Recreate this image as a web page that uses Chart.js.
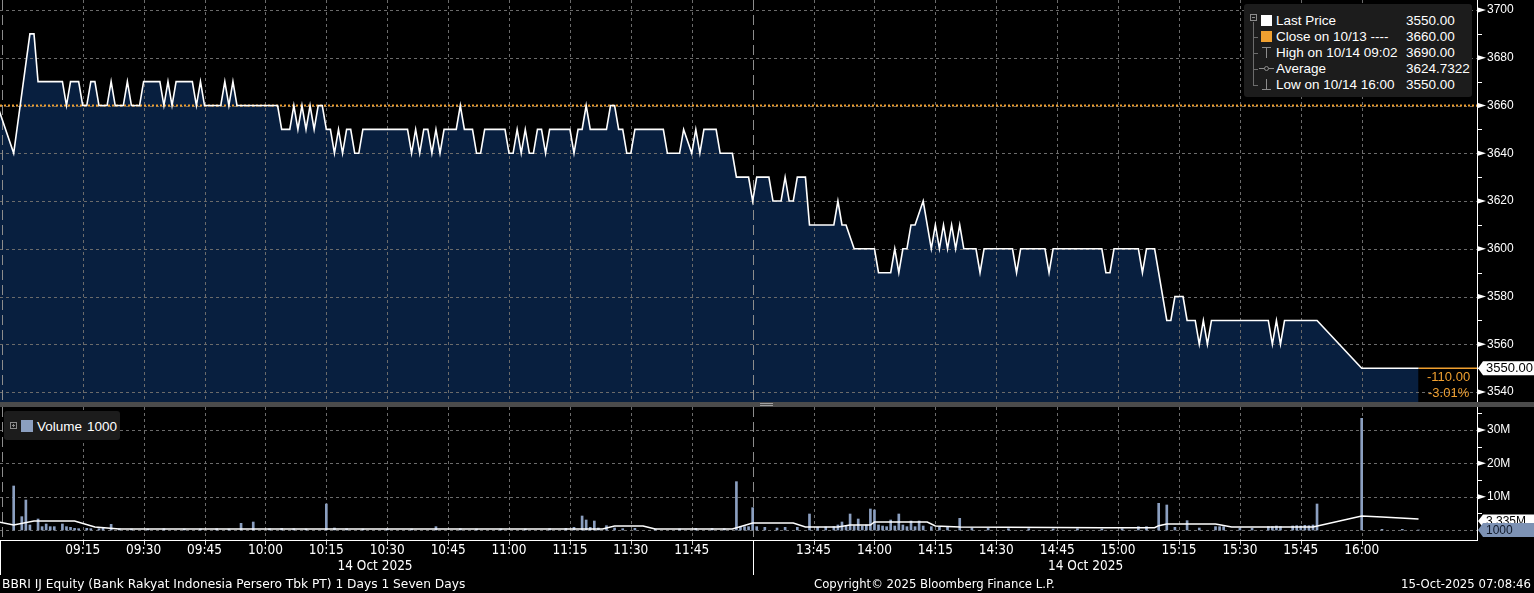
<!DOCTYPE html>
<html><head><meta charset="utf-8">
<script src="https://cdn.jsdelivr.net/npm/chart.js@4.4.1/dist/chart.umd.min.js"></script>
<style>
html,body{margin:0;padding:0;background:#000;width:1534px;height:593px;overflow:hidden;}
#wrap{position:relative;width:1534px;height:593px;}
canvas{position:absolute;left:0;}
#pc{top:0;} #vc{top:407px;}
#sep{position:absolute;left:0;top:402px;width:1534px;height:5px;background:#4b4b4b;}
.hd{position:absolute;left:760px;width:13px;height:1px;background:#a0a0a0;}
.box{position:absolute;background:#1c1c1c;border-radius:3px;}
.t{position:absolute;color:#fff;font-size:13.5px;font-family:"Liberation Sans",Arial,sans-serif;line-height:16px;white-space:pre;}
.ic{position:absolute;background:#8c8c8c;}
.ft{position:absolute;color:#fff;font-size:13px;font-family:"DejaVu Sans Condensed","Liberation Sans Narrow",sans-serif;line-height:18px;white-space:pre;top:575px;}
</style></head>
<body><div id="wrap">
<canvas id="pc" width="1534" height="402"></canvas>
<div id="sep"><div class="hd" style="top:1px"></div><div class="hd" style="top:3px"></div></div>
<canvas id="vc" width="1534" height="186"></canvas>
<div id="legend"></div>
<div class="ft" id="f1" style="left:2px;transform-origin:0 50%;transform:scaleX(1.045)"></div>
<div class="ft" id="f2" style="left:814px"></div>
<div class="ft" id="f3" style="right:3px;text-align:right"></div>
</div>
<script>
// ---------- DATA ----------
const priceTimes = ['08:54','08:58','09:02','09:03','09:04','09:10','09:11','09:12','09:14','09:15','09:16','09:17','09:18','09:19','09:21','09:22','09:23','09:25','09:26','09:27','09:29','09:30','09:34','09:35','09:36','09:37','09:38','09:42','09:43','09:44','09:45','09:49','09:50','09:51','09:52','09:53',
'10:03','10:04','10:06','10:07','10:08','10:09','10:10','10:11','10:12','10:13','10:14','10:15','10:16','10:17','10:18','10:19','10:20','10:21','10:22','10:23','10:24','10:35','10:36','10:37','10:38','10:39','10:40','10:41','10:42','10:43','10:44','10:47','10:48','10:49','10:51','10:52','10:53','10:54','10:59',
'11:00','11:01','11:02','11:03','11:04','11:05','11:06','11:07','11:08','11:09','11:10','11:15','11:16','11:17','11:18','11:19','11:20','11:24','11:25','11:26','11:27','11:28','11:29','11:30','11:31','11:38','11:39','11:42','11:43','11:45','11:46','11:47','11:48','11:51','11:52','11:55','11:56','11:59',
'13:30','13:31','13:34','13:35','13:37','13:38','13:39','13:40','13:41','13:43','13:44','13:50','13:51','13:52','13:53','13:55','14:00','14:01','14:04','14:05','14:06','14:07','14:08','14:09','14:10','14:12','14:14','14:15','14:16','14:17','14:18','14:19','14:20','14:21','14:22','14:25','14:26','14:27','14:34','14:35','14:36','14:42','14:43','14:44','14:56','14:57','14:58','14:59',
'15:05','15:06','15:07','15:09','15:12','15:13','15:14','15:16','15:17','15:19','15:20','15:21','15:22','15:23','15:37','15:38','15:39','15:40','15:41','15:49','16:00','16:14'];
const priceValues = [3660,3640,3690,3690,3670,3670,3660,3670,3670,3660,3660,3670,3670,3660,3660,3670,3660,3660,3670,3660,3660,3670,3670,3660,3670,3660,3670,3670,3660,3670,3660,3660,3670,3660,3670,3660,
3660,3650,3650,3660,3650,3660,3650,3660,3650,3660,3660,3650,3650,3640,3650,3640,3650,3650,3640,3640,3650,3650,3640,3650,3640,3650,3650,3640,3650,3640,3650,3650,3660,3650,3650,3640,3640,3650,3650,
3640,3640,3650,3640,3650,3640,3640,3650,3650,3640,3650,3650,3640,3650,3650,3660,3650,3650,3660,3660,3650,3650,3640,3640,3650,3650,3640,3640,3650,3640,3650,3640,3650,3650,3640,3640,3630,3630,
3620,3630,3630,3620,3620,3630,3620,3620,3630,3630,3610,3610,3620,3610,3610,3600,3600,3590,3590,3600,3590,3600,3600,3610,3610,3620,3600,3610,3600,3610,3600,3610,3600,3610,3600,3600,3590,3600,3600,3590,3600,3600,3590,3600,3600,3590,3590,3600,
3600,3590,3600,3600,3570,3570,3580,3580,3570,3570,3560,3570,3560,3570,3570,3560,3570,3560,3570,3570,3550,3550];
const prevClose = 3660;
const averagePrice = 3624.7322;

const volumeTimes = ['08:58','09:00','09:01','09:02','09:04','09:05','09:06','09:07','09:08','09:10','09:11','09:12','09:13','09:14','09:16','09:17','09:19','09:20','09:22','09:24','09:27','09:31','09:35','09:40','09:44','09:48','09:51','09:54','09:57',
'10:01','10:04','10:07','10:10','10:15','10:17','10:20','10:24','10:30','10:36','10:42','10:48','10:52','10:58','11:04','11:10','11:14','11:16','11:18','11:19','11:20','11:21','11:22','11:24','11:26','11:28','11:31','11:36','11:42','11:46','11:50','11:53','11:56','11:57','11:58','11:59',
'13:30','13:31','13:33','13:36','13:38','13:41','13:44','13:46','13:48','13:50','13:51','13:52','13:53','13:54','13:55','13:56','13:57','13:58','13:59','14:00','14:01','14:02','14:03','14:04','14:05','14:06','14:07','14:08','14:09','14:10','14:11','14:12','14:14','14:16','14:18','14:21','14:24','14:28','14:33','14:38','14:44','14:50','14:56',
'15:01','15:05','15:07','15:10','15:12','15:14','15:17','15:20','15:24','15:25','15:26','15:30','15:33','15:37','15:38','15:39','15:40','15:43','15:44','15:45','15:46','15:47','15:48','15:49','16:00','16:05','16:10','16:14'];
const volumeValues = [13.2,4.0,9.0,1.5,3.3,1.0,1.8,1.0,1.0,1.8,1.0,0.8,0.5,0.4,0.5,0.4,0.4,0.5,1.7,0.4,0.3,0.3,0.4,0.3,0.3,0.4,0.3,2.0,2.4,
0.4,0.5,0.4,0.3,7.8,0.6,0.4,0.3,0.3,0.3,1.0,0.4,0.3,0.3,0.3,0.4,0.5,0.8,4.2,3.0,0.8,2.7,0.6,1.3,0.6,0.4,0.5,0.3,0.3,0.5,0.5,0.4,14.5,1.0,1.0,1.0,
6.7,1.0,0.8,0.6,0.8,0.8,4.8,0.8,0.9,1.0,1.5,2.4,1.2,4.8,1.3,3.3,1.2,1.5,6.3,6.0,1.5,1.2,1.0,3.0,1.2,4.8,1.5,1.0,2.7,1.0,2.7,1.2,1.0,0.8,1.0,3.5,0.6,0.5,0.4,0.4,0.3,0.4,0.3,
0.4,1.0,1.0,8.0,7.5,0.8,2.8,0.6,1.0,1.0,1.0,0.5,0.5,1.0,1.0,1.2,1.0,1.2,1.3,1.2,1.4,1.3,1.5,7.8,33.5,0.2,0.2,0.001]; // millions of shares

const volumeAvgTimes = ['08:54','08:58','09:03','09:13','09:18','09:24','11:23','11:26','11:33','11:36','11:55','13:30','13:40','13:43','13:51','13:54','13:59','14:00','14:13','14:15','14:21','14:56','15:09','15:10','15:12','15:24','15:28','15:48','16:00','16:05','16:14'];
const volumeAvgValues = [2.5,1.5,2.7,2.7,0.9,0.3,0.3,1.2,1.2,0.3,0.3,2.1,2.1,0.9,0.9,1.5,1.5,2.4,2.4,1.2,0.9,0.7,0.7,1.3,1.8,1.8,0.9,0.9,4.2,3.9,3.335];

const timeTickLabels = ['09:15','09:30','09:45','10:00','10:15','10:30','10:45','11:00','11:15','11:30','11:45','13:45','14:00','14:15','14:30','14:45','15:00','15:15','15:30','15:45','16:00'];
const priceTickValues = [3540,3560,3580,3600,3620,3640,3660,3680,3700];
const volumeTickValues = [0,10,20,30];
const sessionStartTimes = ['08:55','13:30'];
const dateLabelTimes = ['10:27','14:52'];
const dateLabel = '14 Oct 2025';
const footerLeft = 'BBRI IJ Equity (Bank Rakyat Indonesia Persero Tbk PT) 1 Days 1 Seven Days';
const footerMid = 'Copyright\u00a9 2025 Bloomberg Finance L.P.';
const footerRight = '15-Oct-2025 07:08:46';

// ---------- helpers ----------
const X_MIN = -5.37, X_MAX = 358.4;
const P_MIN = 3535.85, P_MAX = 3704.19;
const V_MIN = -3.3, V_MAX = 36.9;
const REG = '"Liberation Sans", Arial, sans-serif';
const COND = '"DejaVu Sans Condensed", "Liberation Sans Narrow", sans-serif';
const ORANGE = '#f0a030';
function minuteOf(t){const [h,m]=t.split(':').map(Number);const a=h*60+m;return a>=810?a-630:a-540;}
const lastPrice = priceValues[priceValues.length-1];
const lastTime = priceTimes[priceTimes.length-1];
const hiVal = Math.max(...priceValues), loVal = Math.min(...priceValues);
const hiTime = priceTimes[priceValues.indexOf(hiVal)];
const lastVolume = Math.round(volumeValues[volumeValues.length-1]*1e6);
const lastAvg = volumeAvgValues[volumeAvgValues.length-1];

function hline(ctx,x1,x2,y){ctx.beginPath();ctx.moveTo(x1,y);ctx.lineTo(x2,y);ctx.stroke();}
function vline(ctx,x,y1,y2){ctx.beginPath();ctx.moveTo(x,y1);ctx.lineTo(x,y2);ctx.stroke();}
function drawGrid(chart, yVals){
  const {ctx, chartArea:a, scales:{x,y}} = chart;
  ctx.save();
  ctx.lineWidth=1; ctx.strokeStyle='#6b6b6b'; ctx.setLineDash([3,3]);
  yVals.forEach(v=>{const py=Math.round(y.getPixelForValue(v))+0.5; hline(ctx,a.left,a.right,py);});
  timeTickLabels.forEach(t=>{const px=Math.round(x.getPixelForValue(minuteOf(t)))+0.5; vline(ctx,px,a.top,a.bottom);});
  ctx.strokeStyle='#8c8c8c'; ctx.setLineDash([10,5]);
  sessionStartTimes.forEach(t=>{const px=Math.round(x.getPixelForValue(minuteOf(t)))+0.5; vline(ctx,px,a.top,a.bottom);});
  ctx.restore();
}
function drawAxisTicks(chart, major, minor){
  const {ctx, chartArea:a, scales:{y}} = chart;
  ctx.save();
  ctx.fillStyle='#fff';
  ctx.fillRect(a.right, a.top, 1, a.bottom-a.top);
  major.forEach(v=>{const py=y.getPixelForValue(v); ctx.beginPath(); ctx.moveTo(a.right+1,py-2.5); ctx.lineTo(a.right+9,py); ctx.lineTo(a.right+1,py+2.5); ctx.closePath(); ctx.fill();});
  minor.forEach(v=>{const py=Math.round(y.getPixelForValue(v)); ctx.fillRect(a.right+1,py,4,1);});
  ctx.restore();
}
function tagBox(ctx, xa, py, h, fill, txtColor, text, size){
  ctx.fillStyle=fill;
  ctx.beginPath(); ctx.moveTo(xa+1,py); ctx.lineTo(xa+6,py-h/2); ctx.lineTo(1534,py-h/2); ctx.lineTo(1534,py+h/2); ctx.lineTo(xa+6,py+h/2); ctx.closePath(); ctx.fill();
  ctx.fillStyle=txtColor; ctx.font=size+'px '+REG; ctx.textBaseline='middle'; ctx.textAlign='left';
  ctx.fillText(text, xa+9, py+0.5);
}
const noPadY = s=>{s.width=57; s.paddingTop=0; s.paddingBottom=0;};

// ---------- PRICE CHART ----------
const pricePlugin = {
  id:'priceDeco',
  beforeDatasetsDraw(chart){ drawGrid(chart, priceTickValues); },
  afterDraw(chart){
    const {ctx, chartArea:a, scales:{y}} = chart;
    const minor = priceTickValues.slice(0,-1).map(v=>v+10);
    drawAxisTicks(chart, priceTickValues, minor);
    const py = y.getPixelForValue(lastPrice);
    ctx.save();
    tagBox(ctx, a.right, py, 14, '#ffffff', '#000', lastPrice.toFixed(2), 13);
    const chg = lastPrice - prevClose, pct = chg/prevClose*100;
    ctx.fillStyle=ORANGE; ctx.font='13px '+REG; ctx.textAlign='left'; ctx.textBaseline='middle';
    ctx.fillText(chg.toFixed(2), 1427, py+9);
    ctx.fillText(pct.toFixed(2)+'%', 1428, py+25.5);
    ctx.restore();
  }
};
new Chart(document.getElementById('pc'), {
  type:'line',
  data:{datasets:[
    {label:'Last Price', data:priceTimes.map((t,i)=>({x:minuteOf(t),y:priceValues[i]})), borderColor:'#ffffff', borderWidth:1.6, backgroundColor:'#081f3f', fill:'start', pointRadius:0, tension:0, order:0},
    {label:'Close', data:[{x:X_MIN,y:prevClose},{x:X_MAX,y:prevClose}], borderColor:ORANGE, borderWidth:2, borderDash:[2,2], pointRadius:0, fill:false, order:1},
    {label:'LastExt', data:[{x:minuteOf(lastTime),y:lastPrice},{x:X_MAX,y:lastPrice}], borderColor:ORANGE, borderWidth:1.5, pointRadius:0, fill:false, order:1}
  ]},
  options:{
    responsive:false, animation:false, events:[],
    layout:{padding:0},
    plugins:{legend:{display:false}, tooltip:{enabled:false}, filler:{drawTime:'beforeDatasetsDraw'}},
    scales:{
      x:{type:'linear', min:X_MIN, max:X_MAX, display:false},
      y:{position:'right', min:P_MIN, max:P_MAX,
         afterBuildTicks:s=>{s.ticks=priceTickValues.map(v=>({value:v}));},
         afterFit:noPadY,
         grid:{display:false, drawTicks:false}, border:{display:false},
         ticks:{color:'#fff', font:{family:REG,size:12}, padding:10, callback:v=>String(v)}}
    }
  },
  plugins:[pricePlugin]
});

// ---------- VOLUME CHART ----------
const volumePlugin = {
  id:'volDeco',
  beforeDatasetsDraw(chart){ drawGrid(chart, volumeTickValues); },
  afterDraw(chart){
    const {ctx, chartArea:a, scales:{x,y}} = chart;
    drawAxisTicks(chart, volumeTickValues.filter(v=>v>0), [5,15,25,35]);
    ctx.save();
    ctx.fillStyle='#fff';
    ctx.fillRect(a.left, a.bottom-1, a.right-a.left+1, 1);
    ctx.fillStyle='#cfcfcf';
    timeTickLabels.forEach(t=>{const px=Math.round(x.getPixelForValue(minuteOf(t))); ctx.fillRect(px,a.bottom,1,4);});
    ctx.fillStyle='#fff';
    sessionStartTimes.forEach((t,i)=>{const px=i===0?0:Math.round(x.getPixelForValue(minuteOf(t))); ctx.fillRect(px,a.bottom,1,34);});
    ctx.font='13.5px '+COND; ctx.textAlign='center'; ctx.textBaseline='middle'; ctx.fillStyle='#fff';
    dateLabelTimes.forEach(t=>{ctx.fillText(dateLabel, x.getPixelForValue(minuteOf(t)), a.bottom+25);});
    tagBox(ctx, a.right, y.getPixelForValue(lastAvg)+2, 13, '#ffffff', '#000', lastAvg.toFixed(3)+'M', 12);
    tagBox(ctx, a.right, y.getPixelForValue(lastVolume/1e6), 14, '#7d92b4', '#10192a', String(lastVolume), 12);
    ctx.restore();
  }
};
new Chart(document.getElementById('vc'), {
  type:'bar',
  data:{datasets:[
    {type:'line', label:'avg', data:volumeAvgTimes.map((t,i)=>({x:minuteOf(t),y:volumeAvgValues[i]})), borderColor:'#ffffff', borderWidth:1.5, pointRadius:0, fill:false, tension:0, order:0},
    {type:'bar', label:'Volume', data:volumeTimes.map((t,i)=>({x:minuteOf(t),y:volumeValues[i]})), backgroundColor:'#8b9fc0', barThickness:2, grouped:false, order:1}
  ]},
  options:{
    responsive:false, animation:false, events:[],
    layout:{padding:0},
    plugins:{legend:{display:false}, tooltip:{enabled:false}},
    scales:{
      x:{type:'linear', min:X_MIN, max:X_MAX, offset:false, position:'bottom',
         afterBuildTicks:s=>{s.ticks=timeTickLabels.map(t=>({value:minuteOf(t)}));},
         afterFit:s=>{s.height=52; s.paddingLeft=0; s.paddingRight=0;},
         grid:{display:false, drawTicks:false}, border:{display:false},
         ticks:{color:'#fff', font:{family:COND,size:13.5}, padding:1, autoSkip:false, maxRotation:0, minRotation:0, callback:(v,i)=>timeTickLabels[i]}},
      y:{position:'right', min:V_MIN, max:V_MAX,
         afterBuildTicks:s=>{s.ticks=volumeTickValues.filter(v=>v>0).map(v=>({value:v}));},
         afterFit:noPadY,
         grid:{display:false, drawTicks:false}, border:{display:false},
         ticks:{color:'#fff', font:{family:REG,size:12}, padding:10, callback:v=>v+'M'}}
    }
  },
  plugins:[volumePlugin]
});

// ---------- LEGENDS (HTML text) ----------
const L = document.getElementById('legend');
function el(cls, style, text){const d=document.createElement('div'); d.className=cls; d.style.cssText=style; if(text!==undefined) d.textContent=text; L.appendChild(d); return d;}
el('box','left:1244px;top:4px;width:228px;height:93px;');
const rows = [
  ['Last Price', lastPrice.toFixed(2)],
  ['Close on 10/13 ----', prevClose.toFixed(2)],
  ['High on 10/14 '+hiTime, hiVal.toFixed(2)],
  ['Average', averagePrice.toFixed(4)],
  ['Low on 10/14 16:00', loVal.toFixed(2)]
];
rows.forEach((r,i)=>{const cy=20.5+16*i; el('t','left:1276px;top:'+(cy-8)+'px;',r[0]); el('t','left:1406px;top:'+(cy-8)+'px;',r[1]);});
el('','position:absolute;left:1250px;top:14px;width:5px;height:5px;border:1px solid #8c8c8c;');
el('ic','left:1252px;top:17px;width:3px;height:1px;');
el('ic','left:1253px;top:22px;width:1px;height:63px;background:#6c6c6c;');
[1,2,3,4].forEach(i=>el('ic','left:1253px;top:'+Math.round(20.5+16*i)+'px;width:5px;height:1px;background:#6c6c6c;'));
el('','position:absolute;left:1261px;top:15px;width:11px;height:11px;background:#fff;');
el('','position:absolute;left:1261px;top:31px;width:11px;height:11px;background:'+ORANGE+';');
el('ic','left:1262px;top:47px;width:9px;height:1px;'); el('ic','left:1266px;top:47px;width:1px;height:11px;');
el('ic','left:1259px;top:68px;width:15px;height:1px;'); el('','position:absolute;left:1264px;top:66px;width:3px;height:3px;border-radius:50%;border:1px solid #8c8c8c;background:#1c1c1c;');
el('ic','left:1266px;top:79px;width:1px;height:11px;'); el('ic','left:1262px;top:89px;width:9px;height:1px;');
el('box','left:4px;top:411px;width:116px;height:29px;');
el('','position:absolute;left:10px;top:422px;width:5px;height:5px;border:1px solid #8c8c8c;');
el('ic','left:12px;top:425px;width:3px;height:1px;'); el('ic','left:13px;top:424px;width:1px;height:3px;');
el('','position:absolute;left:21px;top:420px;width:12px;height:12px;background:#8b9fc0;');
el('t','left:37px;top:418.5px;','Volume');
el('t','left:87px;top:418.5px;',String(lastVolume));
document.getElementById('f1').textContent = footerLeft;
document.getElementById('f2').textContent = footerMid;
document.getElementById('f3').textContent = footerRight;
</script>
</body></html>
